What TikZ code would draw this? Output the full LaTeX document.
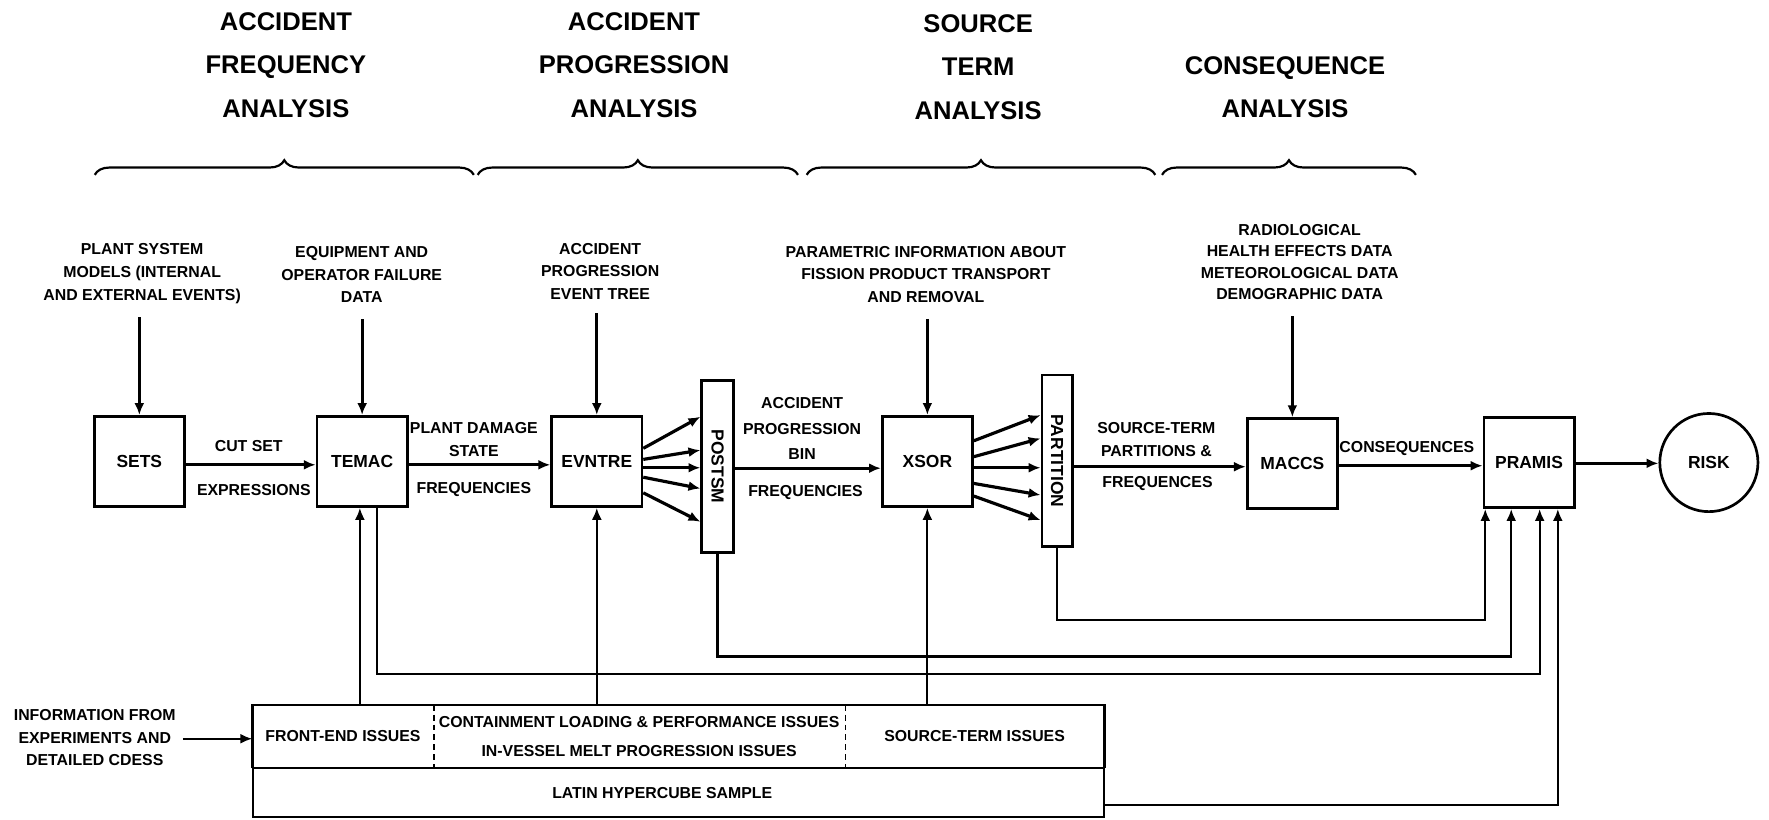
\documentclass[tikz,border=0pt]{standalone}
\usepackage{fontspec}
\setmainfont{Liberation Sans}
\usepackage{graphicx}
\usetikzlibrary{arrows.meta,calc,decorations.pathreplacing}
\newcommand{\pxu}{0.02cm}
\begin{document}
\begin{tikzpicture}[x=0.02cm,y=-0.02cm,
  lab/.style={font=\bfseries\fontsize{8}{11.4}\selectfont, align=center, inner sep=0pt},
  head/.style={font=\bfseries\fontsize{12.9}{21.85}\selectfont, align=center, inner sep=0pt},
  box/.style={draw, line width=1.35pt, minimum width=80*\pxu, minimum height=80*\pxu, inner sep=0pt, font=\bfseries\fontsize{8.8}{10.5}\selectfont},
  vbox/.style={draw, line width=1.35pt, inner sep=0pt, font=\bfseries\fontsize{8.8}{10.5}\selectfont},
  cell/.style={inner sep=0pt, font=\bfseries\fontsize{8}{14.4}\selectfont, align=center},
  arr/.style={-{Latex[length=6pt,width=5pt]}, line width=1.6pt},
  fbarr/.style={-{Latex[length=6pt,width=5pt]}, line width=1.05pt},
  brc/.style={decorate, decoration={brace, amplitude=0.26cm}, line width=1.1pt}
]
\useasboundingbox (0,0) rectangle (1568,726);

% headings
\node[head] (h1) at (253.4,57.6) {ACCIDENT\\FREQUENCY\\ANALYSIS};
\node[head] (h2) at (562,57.6) {ACCIDENT\\PROGRESSION\\ANALYSIS};
\node[head] (h3) at (867,59.5) {SOURCE\\TERM\\ANALYSIS};
\node[head] (h4) at (1139,77.5) {CONSEQUENCE\\ANALYSIS};

% braces
\draw[brc] (84,155) -- (420,155);
\draw[brc] (423.4,155) -- (707.3,155);
\draw[brc] (715,155) -- (1024,155);
\draw[brc] (1030,155) -- (1255,155);

% main boxes
\node[box] (SETS) at (123.5,409) {SETS};
\node[box] (TEMAC) at (321,409) {TEMAC};
\node[box] (EVNTRE) at (529,409) {EVNTRE};
\node[vbox, minimum width=28*\pxu, minimum height=153*\pxu] (POSTSM) at (636,413.5) {\rotatebox[origin=c]{-90}{POSTSM}};
\node[box] (XSOR) at (822,409) {XSOR};
\node[vbox, minimum width=27*\pxu, minimum height=152*\pxu] (PARTITION) at (937,408.5) {\rotatebox[origin=c]{-90}{PARTITION}};
\node[box] (MACCS) at (1145.5,411) {MACCS};
\node[box] (PRAMIS) at (1355.3,410) {PRAMIS};
\node[draw, circle, line width=1.35pt, minimum size=87*\pxu, inner sep=0pt, font=\bfseries\fontsize{8.8}{10.5}\selectfont] (RISK) at (1514.7,410) {RISK};

% input labels
\node[lab] (inSETS) at (126,242.5) {PLANT SYSTEM\\MODELS (INTERNAL\\AND EXTERNAL EVENTS)};
\node[lab] (inTEMAC) at (320.6,243.5) {EQUIPMENT AND\\OPERATOR FAILURE\\DATA};
\node[lab] (inEVNTRE) at (532,240.5) {ACCIDENT\\PROGRESSION\\EVENT TREE};
\node[lab] (inXSOR) at (820.7,243.3) {PARAMETRIC INFORMATION ABOUT\\FISSION PRODUCT TRANSPORT\\AND REMOVAL};
\node[lab, font=\bfseries\fontsize{8}{10.9}\selectfont] (inMACCS) at (1152,232.3) {RADIOLOGICAL\\HEALTH EFFECTS DATA\\METEOROLOGICAL DATA\\DEMOGRAPHIC DATA};

\draw[arr] ($(inSETS.south -| SETS.north)+(0,12)$) -- (SETS.north);
\draw[arr] ($(inTEMAC.south -| TEMAC.north)+(0,14)$) -- (TEMAC.north);
\draw[arr] ($(inEVNTRE.south -| EVNTRE.north)+(0,12)$) -- (EVNTRE.north);
\draw[arr] ($(inXSOR.south -| XSOR.north)+(0,14)$) -- (XSOR.north);
\draw[arr] ($(inMACCS.south -| MACCS.north)+(0,14)$) -- (MACCS.north);

% main flow
\draw[arr] ($(SETS.east)+(0,3)$) -- ($(TEMAC.west)+(0,3)$);
\node[lab] (lCut) at (220.5,395) {CUT SET};
\node[lab] (lExpr) at (225,434) {EXPRESSIONS};
\draw[arr] ($(TEMAC.east)+(0,3)$) -- ($(EVNTRE.west)+(0,3)$);
\node[lab] (lPds) at (420,389.5) {PLANT DAMAGE\\STATE};
\node[lab] (lFreq1) at (420,434) {FREQUENCIES};

\foreach \a/\b in {-11.6/-39.6,-1.8/-10,5.6/5.6,14/24,27.8/53.5}
  \draw[arr] ($(EVNTRE.east)+(0,\a)$) -- ($(POSTSM.west |- EVNTRE.east)+(0,\b)$);

\draw[arr] ($(POSTSM.east |- XSOR.west)+(0,6)$) -- ($(XSOR.west)+(0,6)$);
\node[lab, font=\bfseries\fontsize{8}{12.8}\selectfont] (lApb) at (711,380) {ACCIDENT\\PROGRESSION\\BIN};
\node[lab] (lFreq2) at (714,437) {FREQUENCIES};

\foreach \a/\b in {-18.3/-41,-4.2/-20.4,5.6/5.6,19.5/29.8,30.7/52}
  \draw[arr] ($(XSOR.east)+(0,\a)$) -- ($(PARTITION.west |- XSOR.east)+(0,\b)$);

\draw[arr] ($(PARTITION.east |- MACCS.west)+(0,2.7)$) -- ($(MACCS.west)+(0,2.7)$);
\node[lab] (lSt) at (1025,389.4) {SOURCE-TERM\\PARTITIONS \&};
\node[lab] (lFreq3) at (1026,428.5) {FREQUENCES};
\draw[arr] ($(MACCS.east)+(0,1.8)$) -- ($(PRAMIS.west)+(0,2.8)$);
\node[lab] (lCons) at (1247,397.5) {CONSEQUENCES};
\draw[arr] ($(PRAMIS.east)+(0,0.7)$) -- ($(RISK.west)+(0,0.7)$);

% bottom block
\node[cell, minimum width=160*\pxu, minimum height=55.6*\pxu] (front) at (304,652.8) {FRONT-END ISSUES};
\node[cell, minimum width=365*\pxu, minimum height=55.6*\pxu] (cont) at (566.5,652.8) {CONTAINMENT LOADING \& PERFORMANCE ISSUES\\IN-VESSEL MELT PROGRESSION ISSUES};
\node[cell, minimum width=229.7*\pxu, minimum height=55.6*\pxu] (src) at (863.85,652.8) {SOURCE-TERM ISSUES};
\node[draw, line width=1.2pt, inner sep=0pt, minimum width=754.7*\pxu, minimum height=43.4*\pxu] (lhs) at (601.35,702.3) {};
\node[cell] (lhsText) at (587,703) {LATIN HYPERCUBE SAMPLE};
\draw[line width=1.2pt] (front.south west) -- (front.north west) -- (src.north east) -- (src.south east);
\draw[line width=0.9pt, dash pattern=on 3pt off 2pt] (front.north east) -- (front.south east);
\draw[line width=0.9pt, dash pattern=on 3pt off 2pt] (cont.north east) -- (cont.south east);

\node[lab] (info) at (84,654) {INFORMATION FROM\\EXPERIMENTS AND\\DETAILED CDESS};
\draw[fbarr] ($(info.east |- front.west)+(6,2)$) -- ($(front.west)+(0,2)$);

% feedback connections
\draw[fbarr] ($(TEMAC.south |- front.north)+(-2,0)$) -- ($(TEMAC.south)+(-2,0)$);
\draw[fbarr] (EVNTRE.south |- cont.north) -- (EVNTRE.south);
\draw[fbarr] (XSOR.south |- src.north) -- (XSOR.south);

\draw[fbarr] ($(TEMAC.south)+(13.3,0)$) |- ($(PRAMIS.south)+(9.4,146)$) -- ($(PRAMIS.south)+(9.4,0)$);
\draw[fbarr] (POSTSM.south) |- ($(PRAMIS.south)+(-15.8,130.7)$) -- ($(PRAMIS.south)+(-15.8,0)$);
\draw[fbarr] (PARTITION.south) |- ($(PRAMIS.south)+(-38.8,98)$) -- ($(PRAMIS.south)+(-38.8,0)$);
\draw[fbarr] ($(lhs.east)+(0,11.4)$) -| ($(PRAMIS.south)+(25.5,0)$);
\end{tikzpicture}
\end{document}
